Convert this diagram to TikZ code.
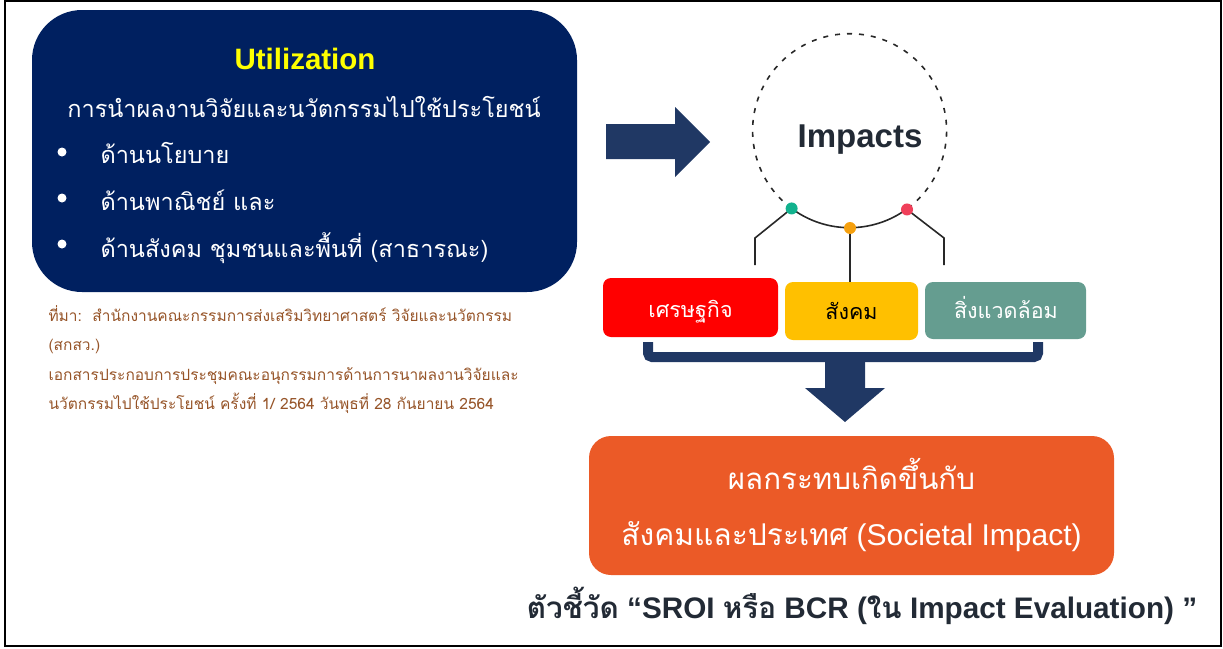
\documentclass[tikz,border=0pt]{standalone}
\usepackage{fontspec}
\setmainfont{Liberation Sans}
\newfontfamily\thaifont[Script=Thai]{Loma}
\usetikzlibrary{positioning}
\definecolor{boxnavy}{RGB}{0,32,96}
\definecolor{arrownavy}{RGB}{32,56,100}
\definecolor{titleyellow}{RGB}{255,255,0}
\definecolor{sourcebrown}{RGB}{150,84,40}
\definecolor{econred}{RGB}{255,0,0}
\definecolor{socyellow}{RGB}{255,192,0}
\definecolor{envteal}{RGB}{101,157,144}
\definecolor{resultorange}{RGB}{235,90,39}
\definecolor{dotgreen}{RGB}{18,178,142}
\definecolor{dotorange}{RGB}{245,160,14}
\definecolor{dotred}{RGB}{240,64,90}
\definecolor{inkdark}{RGB}{34,42,53}
\definecolor{linegray}{RGB}{40,40,40}
\begin{document}
\begin{tikzpicture}
[x=1pt,y=-1pt,
  boxdecorate/.style={rounded corners=8pt,inner sep=0pt,minimum height=58pt},
  dotdecorate/.style={shape=circle,inner sep=0pt,minimum size=12pt},
  bulletdecorate/.style={shape=circle,fill=white,inner sep=0pt,minimum size=9pt},
  linedecorate/.style={-,line width=1.6pt,color=linegray},
  thaiwhite/.style={text=white,font=\thaifont\fontsize{23.5}{28}\selectfont,anchor=base west},
  labeldecorate/.style={anchor=base,font=\thaifont\fontsize{21.5}{26}\selectfont},
  sourcedecorate/.style={text=sourcebrown,font=\thaifont\fontsize{15.5}{18}\selectfont,anchor=base west}]
\useasboundingbox (0,0) rectangle (1223,648);
\draw[line width=2pt] (5,1) rectangle (1221,646);
% utilization box
\node (util) at (304.5,151) [fill=boxnavy,rounded corners=50pt,minimum width=545pt,minimum height=282pt] {};
\node (utiltitle) at (305,69) [anchor=base,text=titleyellow,font=\bfseries\fontsize{29.5}{34}\selectfont] {Utilization};
\node (utilsub) at (304,117) [thaiwhite,anchor=base] {การนำผลงานวิจัยและนวัตกรรมไปใช้ประโยชน์};
\node (b1) at (62,152) [bulletdecorate] {};
\node (b2) at (62,198) [bulletdecorate] {};
\node (b3) at (62,244) [bulletdecorate] {};
\node (t1) at (97,163) [thaiwhite] {ด้านนโยบาย};
\node (t2) at (97,210) [thaiwhite] {ด้านพาณิชย์ และ};
\node (t3) at (97,257) [thaiwhite] {ด้านสังคม ชุมชนและพื้นที่ (สาธารณะ)};
% source
\node (s1) at (45,321) [sourcedecorate] {ที่มา:\ \ สำนักงานคณะกรรมการส่งเสริมวิทยาศาสตร์ วิจัยและนวัตกรรม};
\node (s2) at (45,350) [sourcedecorate] {(สกสว.)};
\node (s3) at (45,380) [sourcedecorate] {เอกสารประกอบการประชุมคณะอนุกรรมการด้านการนาผลงานวิจัยและ};
\node (s4) at (45,409) [sourcedecorate] {นวัตกรรมไปใช้ประโยชน์ ครั้งที่ 1/ 2564 วันพุธที่ 28 กันยายน 2564};
% arrow to impacts
\fill[arrownavy] (606,124) -- (675,124) -- (675,107) -- (710,142) -- (675,177) -- (675,159) -- (606,159) -- cycle;
% impacts circle
\node (impacts) at (850,131) [shape=circle,minimum size=194pt,inner sep=0pt,outer sep=0pt] {};
\node (impactlabel) at (860,147) [anchor=base,text=inkdark,font=\bfseries\fontsize{33}{38}\selectfont] {Impacts};
\draw[line width=1.6pt,color=linegray,dash pattern=on 5pt off 7pt] (impacts.233.3) arc[start angle=233.3,end angle=-53.3,radius=97pt];
\draw[linedecorate] (impacts.233.3) arc[start angle=233.3,end angle=306.7,radius=97pt];
% boxes
\node (econ) at (690.5,307.5) [boxdecorate,fill=econred,minimum width=175pt,minimum height=59pt] {};
\node (soc) at (851.5,311) [boxdecorate,fill=socyellow,minimum width=133pt] {};
\node (env) at (1005.5,310.5) [boxdecorate,fill=envteal,minimum width=161pt,minimum height=57pt] {};
\node at (690.5,317) [labeldecorate,text=white] {เศรษฐกิจ};
\node at (851.5,319) [labeldecorate,text=black] {สังคม};
\node at (1006,318) [labeldecorate,text=white] {สิ่งแวดล้อม};
% dots and connectors
\coordinate (ebend) at (755,238);
\coordinate (eend) at (755,265);
\coordinate (rbend) at (944,238);
\coordinate (rend) at (944,265);
\draw[linedecorate] (impacts.233.3) -- (ebend) -- (eend);
\draw[linedecorate] (impacts.270) -- (impacts.270 |- soc.north);
\draw[linedecorate] (impacts.306.7) -- (rbend) -- (rend);
\node (gdot) at (impacts.233.3) [dotdecorate,fill=dotgreen] {};
\node (odot) at (impacts.270) [dotdecorate,fill=dotorange] {};
\node (rdot) at (impacts.306.7) [dotdecorate,fill=dotred] {};
% bracket and down arrow
\coordinate (bl) at (648,342);
\coordinate (br) at (1038,342);
\draw[arrownavy,line width=10pt,rounded corners=4pt] (bl) -- (648,357) -- (1038,357) -- (br);
\fill[arrownavy] (825,357) -- (865,357) -- (865,388) -- (885,388) -- (845,422) -- (805,388) -- (825,388) -- cycle;
% result
\node (result) at (851.5,505.5) [fill=resultorange,rounded corners=22pt,minimum width=525pt,minimum height=139pt] {};
\node (r1) at (851.5,489) [anchor=base,text=white,font=\thaifont\fontsize{29.5}{34}\selectfont] {ผลกระทบเกิดขึ้นกับ};
\node (r2) at (851.5,545) [anchor=base,text=white,font=\fontsize{30}{35}\selectfont] {{\thaifont สังคมและประเทศ} (Societal Impact)};
\node (indicator) at (862,618) [anchor=base,text=inkdark,font=\bfseries\fontsize{29.7}{35}\selectfont] {{\thaifont ตัวชี้วัด} “SROI {\thaifont หรือ} BCR ({\thaifont ใน} Impact Evaluation) ”};
\end{tikzpicture}
\end{document}
